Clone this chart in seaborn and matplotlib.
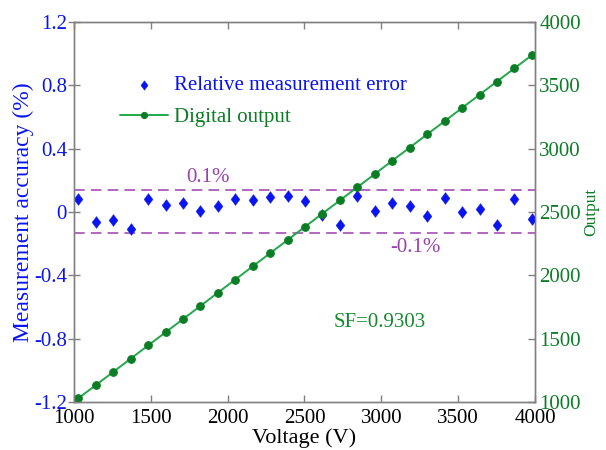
import numpy as np
import pandas as pd
import matplotlib
matplotlib.use('Agg')
import matplotlib.pyplot as plt
import seaborn as sns
from matplotlib.ticker import FuncFormatter, MultipleLocator

# Data
voltage = [1028, 1142, 1255, 1369, 1482, 1596, 1709, 1823, 1936, 2050, 2163, 2277, 2390, 2504,
           2617, 2731, 2844, 2958, 3071, 3185, 3298, 3412, 3525, 3639, 3752, 3866, 3980]
rel_error = [0.079, -0.064, -0.052, -0.106, 0.083, 0.047, 0.058, 0.009, 0.041, 0.083, 0.075, 0.096,
             0.100, 0.068, -0.016, -0.079, 0.100, 0.009, 0.058, 0.041, -0.026, 0.089, -0.001, 0.016,
             -0.085, 0.079, -0.043]
digital_output = [1029, 1133, 1237, 1342, 1446, 1550, 1654, 1758, 1863, 1967, 2071, 2175, 2279, 2384,
                  2488, 2592, 2696, 2800, 2905, 3009, 3113, 3217, 3321, 3426, 3530, 3634, 3738]
upper_limit = 0.14
lower_limit = -0.135

df = pd.DataFrame({'Voltage': voltage, 'Error': rel_error, 'Output': digital_output})

sns.set_style('ticks')
plt.rcParams['font.family'] = ['Liberation Serif', 'DejaVu Serif']

blue = '#0a14f0'
green_line = '#22a84a'
green_dark = '#0b7d24'
green_text = '#138a2e'
purple = '#9a40b0'
spine_gray = '#808080'

# diamond a bit taller than wide
diamond = [(0, 1), (0.75, 0), (0, -1), (-0.75, 0), (0, 1)]

fig = plt.figure(figsize=(6.06, 4.5), dpi=100)
ax = fig.add_axes([0.1221, 0.1067, 0.7607, 0.8444])
ax2 = ax.twinx()

sns.scatterplot(data=df, x='Voltage', y='Error', ax=ax, marker=diamond, s=72, color=blue,
                edgecolor=blue, linewidth=0.3, zorder=3, label='Relative measurement error', legend=False)
sns.lineplot(data=df, x='Voltage', y='Output', ax=ax2, color=green_line, linewidth=1.4,
             marker='o', markersize=5.5, markerfacecolor=green_dark, markeredgecolor=green_dark,
             label='Digital output', legend=False)

ax.axhline(upper_limit, color=purple, linestyle=(0, (7, 4)), linewidth=1.1)
ax.axhline(lower_limit, color=purple, linestyle=(0, (7, 4)), linewidth=1.1)
ax.text(1872, 0.215, '0.1%', color=purple, fontsize=15, ha='center', va='center')
ax.text(3219, -0.227, '-0.1%', color=purple, fontsize=15, ha='center', va='center')
ax.text(2692, -0.695, 'SF=0.9303', color=green_text, fontsize=15, ha='left', va='center')

ax.set_xlim(1000, 4000)
ax.set_ylim(-1.2, 1.2)
ax2.set_ylim(1000, 4000)
ax.xaxis.set_major_locator(MultipleLocator(500))
ax.yaxis.set_major_locator(MultipleLocator(0.4))
ax2.yaxis.set_major_locator(MultipleLocator(500))
ax.yaxis.set_major_formatter(FuncFormatter(lambda v, p: '0' if abs(v) < 1e-9 else f'{v:.1f}'))

ax.set_xlabel('Voltage (V)', fontsize=16, color='black', labelpad=0)
ax.set_ylabel('Measurement accuracy (%)', fontsize=17, color=blue, labelpad=0)
ax2.set_ylabel('Output', fontsize=12.5, color=green_dark, labelpad=2)

ax.tick_params(axis='x', direction='in', length=5, width=1, colors=spine_gray, labelcolor='black',
               labelsize=15, pad=5, top=True)
ax.tick_params(axis='y', direction='inout', length=8, width=1, colors=spine_gray, labelcolor=blue,
               labelsize=15, pad=1)
ax2.tick_params(axis='y', direction='in', length=5, width=1, colors=spine_gray, labelcolor=green_dark,
                labelsize=15, pad=3)

for a in (ax, ax2):
    for s in a.spines.values():
        s.set_color(spine_gray)
        s.set_linewidth(1.0)
        s.set_visible(True)

h1, l1 = ax.get_legend_handles_labels()
h2, l2 = ax2.get_legend_handles_labels()
leg = ax.legend(h1 + h2, l1 + l2, loc='upper left', bbox_to_anchor=(0.06, 0.908), frameon=False,
                fontsize=15, handlelength=2.3, handletextpad=0.25, labelspacing=0.6, borderpad=0.4,
                markerscale=0.8)
for txt, c in zip(leg.get_texts(), [blue, green_dark]):
    txt.set_color(c)

fig.savefig('out.png', dpi=100)
